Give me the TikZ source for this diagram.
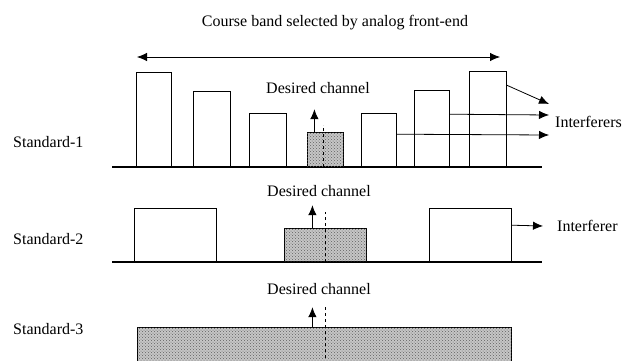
\documentclass[tikz,border=0pt]{standalone}
\usepackage{fontspec}
\setmainfont{Liberation Serif}
\usetikzlibrary{positioning,arrows.meta,patterns}

\begin{document}
\begin{tikzpicture}[
  x=1pt,y=-1pt,
  font=\fontsize{16}{19}\selectfont,
  txt/.style={inner sep=0pt},
  chan/.style={draw,thick,inner sep=0pt,anchor=south west},
  want/.style={chan,fill=gray!45,postaction={pattern=crosshatch dots,pattern color=gray!75!black}},
  arr/.style={-{Latex[length=10pt,width=8.5pt]},thick},
  axis/.style={line width=1.2pt},
  cut/.style={dashed,thick}
]
\useasboundingbox (0,0) rectangle (622,360);

\node[txt] (title) at (335,23) {Course band selected by analog front-end};
\coordinate (bandl) at (137,57);
\coordinate (bandr) at (500,57);
\draw[{Latex[length=10pt,width=8.5pt]}-{Latex[length=10pt,width=8.5pt]},thick] (bandl) -- (bandr);

\node[txt,anchor=west] (std1) at (13,142) {Standard-1};
\coordinate (s1l) at (112,167);
\coordinate (s1r) at (542,167);
\draw[axis] (s1l) -- (s1r);
\node[chan,minimum width=35pt,minimum height=94pt] (b1) at (136,167) {};
\node[chan,minimum width=37pt,minimum height=75pt] (b2) at (193,167) {};
\node[chan,minimum width=37pt,minimum height=53pt] (b3) at (249,167) {};
\node[want,minimum width=36pt,minimum height=34pt] (d1) at (307,167) {};
\node[chan,minimum width=35pt,minimum height=53pt] (b5) at (361,167) {};
\node[chan,minimum width=35pt,minimum height=76pt] (b6) at (414,167) {};
\node[chan,minimum width=37pt,minimum height=95pt] (b7) at (469,167) {};
\node[txt] (want1) at (318,88) {Desired channel};
\draw[arr] ([xshift=-11pt]d1.north) -- ++(0,-23);
\draw[cut] ([xshift=-2pt]d1.south) -- ++(0,-42);
\coordinate (t1) at (549,104);
\coordinate (t2) at (549,115);
\coordinate (t3) at (549,135);
\draw[arr] ([yshift=-14pt]b7.north east) -- (t1);
\draw[arr] ([yshift=-24pt]b6.north east) -- (t2);
\draw[arr] ([yshift=-21pt]b5.north east) -- (t3);
\node[txt,anchor=west] (intf1) at (555,122) {Interferers};

\node[txt,anchor=west] (std2) at (13,239) {Standard-2};
\coordinate (s2l) at (112,262);
\coordinate (s2r) at (542,262);
\draw[axis] (s2l) -- (s2r);
\node[chan,minimum width=82pt,minimum height=53pt] (a1) at (134,262) {};
\node[want,minimum width=82pt,minimum height=33pt] (d2) at (284,262) {};
\node[chan,minimum width=82pt,minimum height=53pt] (a3) at (429,262) {};
\node[txt] (want2) at (319,191) {Desired channel};
\draw[arr] ([xshift=-13pt]d2.north) -- ++(0,-23);
\draw[cut] (d2.south) -- ++(0,-50);
\coordinate (t4) at (543,226);
\draw[arr] ([yshift=-17pt]a3.north east) -- (t4);
\node[txt,anchor=west] (intf2) at (557,226) {Interferer};

\node[txt,anchor=west] (std3) at (13,329) {Standard-3};
\node[want,minimum width=374pt,minimum height=37pt] (d3) at (137,365) {};
\node[txt] (want3) at (319,289) {Desired channel};
\draw[arr] ([xshift=-12pt]d3.north) -- ++(0,-20);
\draw[cut] ([xshift=1pt]d3.north) ++(0,-20) -- ([xshift=1pt]d3.south);
\end{tikzpicture}
\end{document}
